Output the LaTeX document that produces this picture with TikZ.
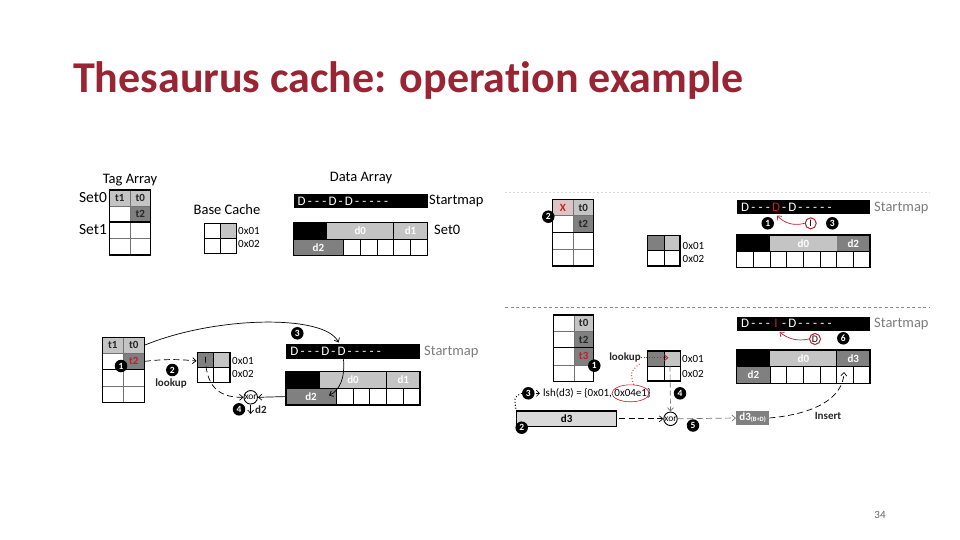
\documentclass[tikz,border=0pt]{standalone}
\usepackage{fontspec}
\setmainfont{Carlito}[Ligatures={TeX,NoCommon}]
\usetikzlibrary{arrows.meta,shapes.geometric}
\definecolor{ttl}{RGB}{153,36,52}
\definecolor{lg}{RGB}{196,196,196}
\definecolor{dg}{RGB}{128,128,128}
\definecolor{rd}{RGB}{192,32,44}
\definecolor{pk}{RGB}{222,196,196}
\definecolor{smg}{RGB}{125,125,125}
\newcommand\myfs[1]{\fontsize{#1}{#1}\selectfont}
\newcommand\hy{\makebox[7.3pt]{-}}
\newcommand\dd[1]{\makebox[9pt]{#1}}
% tag array grid: x0 xm x1 y0 y1 y2(set sep) y3 y4
\newcommand\mytag[8]{%
  \draw[gin] (#2,#4)--(#2,#8) (#1,#5)--(#3,#5) (#1,#7)--(#3,#7);
  \draw[gout] (#1,#4) rectangle (#3,#8) (#1,#6)--(#3,#6);}
% base cache grid: x0 xm x1 y0 ym y1
\newcommand\mybc[6]{%
  \draw[dline] (#2,#4)--(#2,#6) (#1,#5)--(#3,#5);
  \draw[gout] (#1,#4) rectangle (#3,#6);}
\tikzset{
  gin/.style={line width=0.6pt, draw=black!55},
  gout/.style={line width=1.3pt, draw=black},
  dline/.style={line width=0.8pt, draw=black},
  lbl/.style={font=\myfs{11}\bfseries, inner sep=0pt, text=black!85},
  wlbl/.style={lbl, text=white},
  numc/.style={circle, fill=black, text=white, font=\myfs{9.5}\bfseries, inner sep=0pt, minimum size=12.5pt},
  redc/.style={circle, draw=rd, line width=1pt, fill=white, font=\myfs{10}, inner sep=0pt, minimum size=11pt},
  hdr/.style={font=\myfs{14.5}, inner sep=0pt},
  sml/.style={font=\myfs{14.5}, inner sep=0pt, anchor=west},
  lab/.style={font=\myfs{11}, inner sep=0pt, anchor=west},
  smbar/.style={fill=black, inner sep=0pt, anchor=west},
  smtxt/.style={font=\myfs{13}, text=white, inner sep=0pt, anchor=west},
  arr/.style={-{Straight Barb[length=3.5pt,width=6pt]}, line width=0.7pt},
  darr/.style={arr, dash pattern=on 6pt off 3.5pt},
  xorn/.style={circle, draw=black, line width=0.9pt, fill=white, minimum size=13.5pt, inner sep=0pt, font=\myfs{9.5}},
}
\begin{document}
\begin{tikzpicture}[x=1pt,y=-1pt]
\useasboundingbox (0,0) rectangle (960,540);
\fill[white] (0,0) rectangle (960,540);

% title and page number
\node[anchor=base west, text=ttl, font=\myfs{44}\bfseries, inner sep=0pt] (title) at (73,93) {Thesaurus cache: operation example};
\node[font=\myfs{11}, text=black!60, inner sep=0pt] (pg) at (880,515) {34};

% separators
\draw[black!15, dash pattern=on 2pt off 2pt] (505,192) -- (930,192);
\draw[black!45, dash pattern=on 3pt off 2.5pt] (505,307) -- (930,307);

%================ TOP LEFT =================
\node[hdr] (tlTagH) at (130,180) {Tag Array};
\node[font=\myfs{15.5}, inner sep=0pt] (tlSet0) at (93,198) {Set0};
\node[font=\myfs{15.5}, inner sep=0pt] (tlSet1) at (93,230) {Set1};
\fill[lg] (109.5,190) rectangle (130,206);
\fill[lg] (130,190) rectangle (150.5,206);
\fill[dg] (130,206) rectangle (150.5,222);
\mytag{109.5}{130}{150.5}{190}{206}{222}{238.5}{255}
\node[lbl] (tlt1) at (119.75,198) {t1};
\node[lbl] (tlt0) at (140.25,198) {t0};
\node[lbl] (tlt2) at (140.25,214) {t2};

\node[hdr] (tlBCH) at (227,210) {Base Cache};
\fill[lg] (220.5,223.5) rectangle (236.5,238.5);
\mybc{204.5}{220.5}{236.5}{223.5}{238.5}{253.5}
\node[lab] (tla1) at (238,231) {0x01};
\node[lab] (tla2) at (238,243.5) {0x02};

\node[hdr] (tlDAH) at (361,178) {Data Array};
\node[smbar, minimum width=134pt, minimum height=14pt] (tlsm) at (293.3,201.3) {};
\node[smtxt] (tlsmt) at ([xshift=3.7pt]tlsm.west) {\dd{D}\hy\hy\hy\dd{D}\hy\dd{D}\hy\hy\hy\hy\hy};
\node[sml] (tlsml) at (429,201) {Startmap};
\fill[black] (293.3,222.3) rectangle (326.8,239);
\fill[lg] (326.8,222.3) rectangle (393.8,239);
\fill[lg] (393.8,222.3) rectangle (427.3,239);
\fill[dg] (293.3,239) rectangle (343.55,255.5);
\draw[dline] (393.8,222.3)--(393.8,239) (293.3,239)--(427.3,239);
\foreach \x in {343.55,360.3,377.05,393.8,410.55} \draw[dline] (\x,239)--(\x,255.5);
\draw[gout] (293.3,222.3) rectangle (427.3,255.5);
\node[wlbl] (tld0) at (360.3,230.6) {d0};
\node[wlbl] (tld1) at (410.55,230.6) {d1};
\node[wlbl] (tld2) at (318.4,247.2) {d2};
\node[sml] (tlSet0b) at (434,230) {Set0};

%================ TOP RIGHT =================
\fill[pk] (552.7,199.3) rectangle (573.3,215.7);
\fill[lg] (573.3,199.3) rectangle (593.3,215.7);
\fill[dg] (573.3,215.7) rectangle (593.3,232.3);
\mytag{552.7}{573.3}{593.3}{199.3}{215.7}{232.3}{249.3}{266}
\node[lbl, text=rd] (trX) at (563,207.5) {X};
\node[lbl] (trt0) at (583.3,207.5) {t0};
\node[lbl] (trt2) at (583.3,224) {t2};
\node[numc] (tr2) at (548.3,216.7) {2};

\fill[dg] (647.7,235.7) rectangle (664,250.7);
\fill[lg] (664,235.7) rectangle (680,250.7);
\mybc{647.7}{664}{680}{235.7}{250.7}{266}
\node[lab] (tra1) at (682.5,246) {0x01};
\node[lab] (tra2) at (682.5,259) {0x02};

\node[smbar, minimum width=133.3pt, minimum height=14.3pt] (trsm) at (736.7,207.2) {};
\node[smtxt] (trsmt) at ([xshift=3.7pt]trsm.west) {\dd{D}\hy\hy\hy\dd{\textcolor{rd}{D}}\hy\dd{D}\hy\hy\hy\hy\hy};
\node[sml, text=smg] (trsml) at (874,207.7) {Startmap};
\fill[black] (736.7,235) rectangle (770,251.3);
\fill[lg] (770,235) rectangle (836.7,251.3);
\fill[dg] (836.7,235) rectangle (870,251.3);
\draw[dline] (736.7,251.3)--(870,251.3);
\foreach \x in {753.4,770,786.7,803.35,820,836.7,853.3} \draw[dline] (\x,251.3)--(\x,267.7);
\draw[gout] (736.7,235) rectangle (870,267.7);
\node[wlbl] (trd0) at (803.35,243.2) {d0};
\node[wlbl] (trd2) at (853.3,243.2) {d2};
\node[numc] (tr1) at (767.7,223.3) {1};
\node[numc] (tr3) at (832.3,223.3) {3};
\node[redc] (trI) at (810.7,223.3) {I};
\coordinate (trD) at (777,215.5);
\draw[arr, rd] (trI.west) to[bend left=30] (trD);

%================ BOTTOM LEFT =================
\fill[lg] (102.3,337.3) rectangle (123.3,353.3);
\fill[lg] (123.3,337.3) rectangle (144.3,353.3);
\fill[dg] (123.3,353.3) rectangle (144.3,369.3);
\mytag{102.3}{123.3}{144.3}{337.3}{353.3}{369.3}{386}{402.7}
\node[lbl] (blt1) at (112.8,345.3) {t1};
\node[lbl] (blt0) at (133.8,345.3) {t0};
\node[lbl, text=rd] (blt2) at (133.8,361.3) {t2};
\node[numc] (bl1) at (121,366) {1};
\coordinate (blt0e) at (144.3,345.3);
\coordinate (blt2e) at (145,361.3);

\fill[dg] (197.3,352.3) rectangle (213.7,367.7);
\fill[lg] (213.7,352.3) rectangle (230,367.7);
\mybc{197.3}{213.7}{230}{352.3}{367.7}{382.7}
\node[lab] (bla1) at (232,361) {0x01};
\node[lab] (bla2) at (232,374) {0x02};
\coordinate (blbcW) at (196.5,361);
\coordinate (blbcDk) at (205.5,357);
\node[numc] (bl2) at (172.3,370) {2};
\node[lbl] (bllook) at (171,384) {lookup};

\node[xorn] (blxor) at (250.7,397.3) {xor};
\node[numc] (bl4) at (239,409.3) {4};
\node[lbl, anchor=west] (bld2o) at (255,410) {d2};
\coordinate (bld2tip) at (250.7,414);

\node[numc] (bl3) at (297.3,333.3) {3};
\node[smbar, minimum width=134pt, minimum height=15pt] (blsm) at (286,351.8) {};
\node[smtxt] (blsmt) at ([xshift=3.7pt]blsm.west) {\dd{D}\hy\hy\hy\dd{D}\hy\dd{D}\hy\hy\hy\hy\hy};
\node[sml, text=smg] (blsml) at (424,352) {Startmap};
\fill[black] (286,371.7) rectangle (319.5,388.3);
\fill[lg] (319.5,371.7) rectangle (386.5,388.3);
\fill[lg] (386.5,371.7) rectangle (420,388.3);
\fill[dg] (286,388.3) rectangle (336.25,405);
\draw[dline] (386.5,371.7)--(386.5,388.3) (286,388.3)--(420,388.3);
\foreach \x in {336.25,353,369.75,386.5,403.25} \draw[dline] (\x,388.3)--(\x,405);
\draw[gout] (286,371.7) rectangle (420,405);
\node[wlbl] (bld0) at (353,380) {d0};
\node[wlbl] (bld1) at (403.25,380) {d1};
\node[wlbl] (bld2) at (311,396.6) {d2};
\coordinate (bld2W) at (285,396.6);
\coordinate (blSMin) at (338.5,342.5);
\coordinate (blSMd) at (343.5,359.3);
\coordinate (bld2tr) at (329,395.5);

\draw[arr] (blt0e) .. controls (215,316) and (325,314) .. (blSMin);
\draw[darr] (blt2e) to[bend left=6] (blbcW);
\draw[darr] (blbcDk) .. controls (205.5,392) and (225,397.5) .. (blxor.west);
\draw[arr] (bld2W) -- (blxor.east);
\draw[arr] (blxor.south) -- (bld2tip);
\draw[arr] (blSMd) .. controls (345,378) and (340,390) .. (bld2tr);

%================ BOTTOM RIGHT =================
\fill[lg] (574,315) rectangle (593.3,331.7);
\fill[dg] (574,331.7) rectangle (593.3,347.7);
\fill[dg] (574,347.7) rectangle (593.3,365);
\mytag{553.3}{574}{593.3}{315}{331.7}{347.7}{365}{381.7}
\node[lbl] (brt0) at (583.65,323.35) {t0};
\node[lbl] (brt2) at (583.65,339.7) {t2};
\node[lbl, text=rd] (brt3) at (583.65,356.35) {t3};
\node[numc] (br1) at (594.3,365.7) {1};

\fill[dg] (647.7,351) rectangle (664,366);
\fill[lg] (664,351) rectangle (680.7,366);
\mybc{647.7}{664}{680.7}{351}{366}{381}
\node[lab] (bra1) at (682,358.5) {0x01};
\node[lab] (bra2) at (682,374) {0x02};
\node[lbl] (brlook) at (625,357.7) {lookup};
\coordinate (brLkT) at (668.5,357.7);
\coordinate (brbcIn) at (670,366.5);

\node[numc] (br3) at (528.3,393.3) {3};
\node[font=\myfs{11}, inner sep=0pt, anchor=west] (brlsh) at (543,393.3) {lsh(d3) = \{0x01, 0x04e1\}};
\node[ellipse, draw=rd, line width=0.6pt, minimum width=37pt, minimum height=17pt, inner sep=0pt] (brell) at (630.5,393.3) {};
\node[numc] (br4) at (680,393.3) {4};
\coordinate (brgtA) at (535.5,393.3);
\coordinate (brgtB) at (539.8,393.3);

\node[draw=black, line width=1.2pt, fill=black!15, minimum width=100pt, minimum height=15.7pt, inner sep=0pt, font=\myfs{11}\bfseries] (brd3) at (566.7,418.8) {d3};
\node[numc] (br2) at (521.7,427.7) {2};
\node[xorn] (brxor) at (670.5,418.8) {xor};
\node[numc] (br5) at (693,425.5) {5};
\node[fill=dg, text=white, font=\myfs{11}\bfseries, minimum width=33pt, minimum height=14pt, inner sep=0pt] (brd3B) at (752.6,418) {d3\raisebox{-1.2pt}{\myfs{6.5}(B+D)}};
\node[lbl] (brins) at (828,416) {Insert};

\node[smbar, minimum width=133.3pt, minimum height=14.3pt] (brsm) at (736.7,323.8) {};
\node[smtxt] (brsmt) at ([xshift=3.7pt]brsm.west) {\dd{D}\hy\hy\hy\dd{\textcolor{rd}{I}}\hy\dd{D}\hy\hy\hy\hy\hy};
\node[sml, text=smg] (brsml) at (874,324) {Startmap};
\node[redc] (brD) at (815,339) {D};
\node[numc] (br6) at (843.3,338.3) {6};
\coordinate (brI) at (779.5,332);
\fill[black] (736.7,350) rectangle (770,366.7);
\fill[lg] (770,350) rectangle (836.7,366.7);
\fill[dg] (836.7,350) rectangle (870,366.7);
\fill[dg] (736.7,366.7) rectangle (770,383.3);
\draw[dline] (836.7,350)--(836.7,366.7) (736.7,366.7)--(870,366.7);
\foreach \x in {770,786.7,803.35,820,836.7,853.3} \draw[dline] (\x,366.7)--(\x,383.3);
\draw[gout] (736.7,350) rectangle (870,383.3);
\node[wlbl] (brd0) at (803.35,358.3) {d0};
\node[wlbl] (brd3c) at (853.3,358.3) {d3};
\node[wlbl] (brd2) at (753.35,375) {d2};
\coordinate (brIns) at (844,372);

\draw[arr, rd] (brD.west) to[bend left=25] (brI);
\draw[arr, rd, dotted, line width=0.9pt] (brlook.east) -- (brLkT);
\draw[rd, dotted, line width=0.9pt] (brell.70) .. controls (630,372) .. (brlook.south east);
\draw[arr, black!55, dash pattern=on 5pt off 3pt] (brbcIn) -- (brxor.north);
\draw[dotted, line width=1pt] (br3.west) .. controls (514,397) .. (brd3.north west);
\draw[-{Straight Barb[length=3pt,width=6pt]}, line width=0.6pt] (brgtA) -- (brgtB);
\draw[darr] ([xshift=2pt]brd3.east) -- (brxor.west);
\draw[darr, black!55] (brxor.east) -- (brd3B.west);
\draw[darr] (brd3B.east) .. controls (815,414) and (843,398) .. (brIns);
\end{tikzpicture}
\end{document}
